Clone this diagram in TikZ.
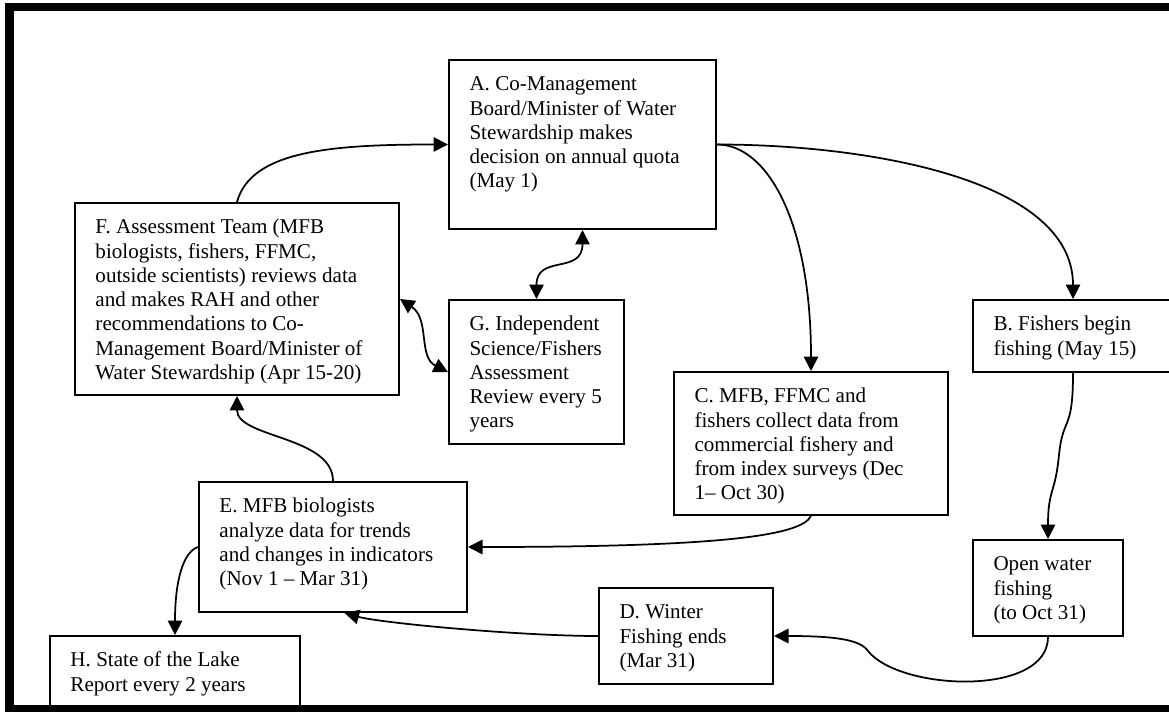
\documentclass[tikz,border=0pt]{standalone}
\usepackage{fontspec}
\setmainfont{Liberation Serif}
\usetikzlibrary{arrows.meta}

\newlength{\pxunit}
\setlength{\pxunit}{0.02cm}
\newcommand{\stagetext}[3]{%
  \parbox[c][\dimexpr#2\pxunit-0.56cm\relax][t]{\dimexpr#1\pxunit-0.82cm\relax}{\raggedright\strut#3}}

\begin{document}
\begin{tikzpicture}[
            x = 0.02cm, y = 0.02cm,
            stagebox/.style = {draw, line width = 0.04cm, anchor = north west,
                inner xsep = 0.41cm, inner ysep = 0.28cm,
                font = \fontsize{12}{13.8}\selectfont},
            flowline/.style = {draw, line width = 0.035cm,
                -{Triangle[length=0.29cm,width=0.29cm]}},
            bothways/.style = {flowline,
                {Triangle[length=0.29cm,width=0.29cm]}-{Triangle[length=0.29cm,width=0.29cm]}}
        ]
        \useasboundingbox (0,0) rectangle (1169,711);
        \clip (0,0) rectangle (1169,711);
        % stages of the cycle
        \node[stagebox] (A) at (448,652) {\stagetext{267}{169}{A. Co-Management\\
            Board/Minister of Water\\ Stewardship makes\\ decision on annual quota\\ (May 1)}};
        \node[stagebox] (F) at (74,509) {\stagetext{324}{192}{F. Assessment Team (MFB\\
            biologists, fishers, FFMC,\\ outside scientists) reviews data\\
            and makes RAH and other\\ recommendations to Co-\\
            Management Board/Minister of\\ Water Stewardship (Apr 15-20)}};
        \node[stagebox] (G) at (448,412) {\stagetext{175}{144}{G. Independent\\
            Science/Fishers\\ Assessment\\ Review every 5\\ years}};
        \node[stagebox] (B) at (972,412) {\stagetext{200}{72}{B. Fishers begin\\ fishing (May 15)}};
        \node[stagebox] (C) at (673,340) {\stagetext{274}{143}{C. MFB, FFMC and\\
            fishers collect data from\\ commercial fishery and\\ from index surveys (Dec\\ 1– Oct 30)}};
        \node[stagebox] (O) at (972,172) {\stagetext{150}{96}{Open water\\ fishing\\ (to Oct 31)}};
        \node[stagebox] (D) at (598,124) {\stagetext{174}{96}{D. Winter\\ Fishing ends\\ (Mar 31)}};
        \node[stagebox] (E) at (198,230) {\stagetext{268}{130}{E. MFB biologists\\
            analyze data for trends\\ and changes in indicators\\ (Nov 1 – Mar 31)}};
        \node[stagebox] (H) at (49,76) {\stagetext{250}{72}{H. State of the Lake\\ Report every 2 years}};
        % connectors
        \draw[flowline] (F.north) .. controls +(14,51) and +(-118,0) .. (A.west);
        \draw[flowline] (A.east) .. controls +(50,0) and +(0,150) .. (C.north);
        \draw[flowline] (A.east) .. controls +(150,0) and +(0,120) .. (B.north);
        \draw[bothways] (G.north) .. controls +(0,45) and +(0,-45) .. (A.south);
        \draw[bothways] (F.east) .. controls +(30,-20) and +(-30,15) .. (G.west);
        \draw[flowline] (B.south) .. controls +(0,-60) and +(4,40) .. (1059,256)
            .. controls +(-4,-40) and +(0,50) .. (O.north);
        \draw[flowline] (O.south) .. controls +(0,-60) and (900,20) .. (868,60)
            .. controls (860,72) and +(58,0) .. (D.east);
        \draw[flowline] (C.south) .. controls +(-10,-20) and +(250,0) .. (E.east);
        \draw[flowline] (D.west) .. controls +(-78,0) and +(36,-10) .. (E.-80);
        \draw[flowline] (E.north) .. controls +(0,45) and +(0,-42) .. (F.south);
        \draw[flowline] (E.west) .. controls +(-15,-5) and +(0,54) .. (H.north);
        % outer frame
        \draw[line width = 0.17cm] (1180,704) -- (9.5,704) -- (9.5,2) -- (1180,2);
\end{tikzpicture}
\end{document}
